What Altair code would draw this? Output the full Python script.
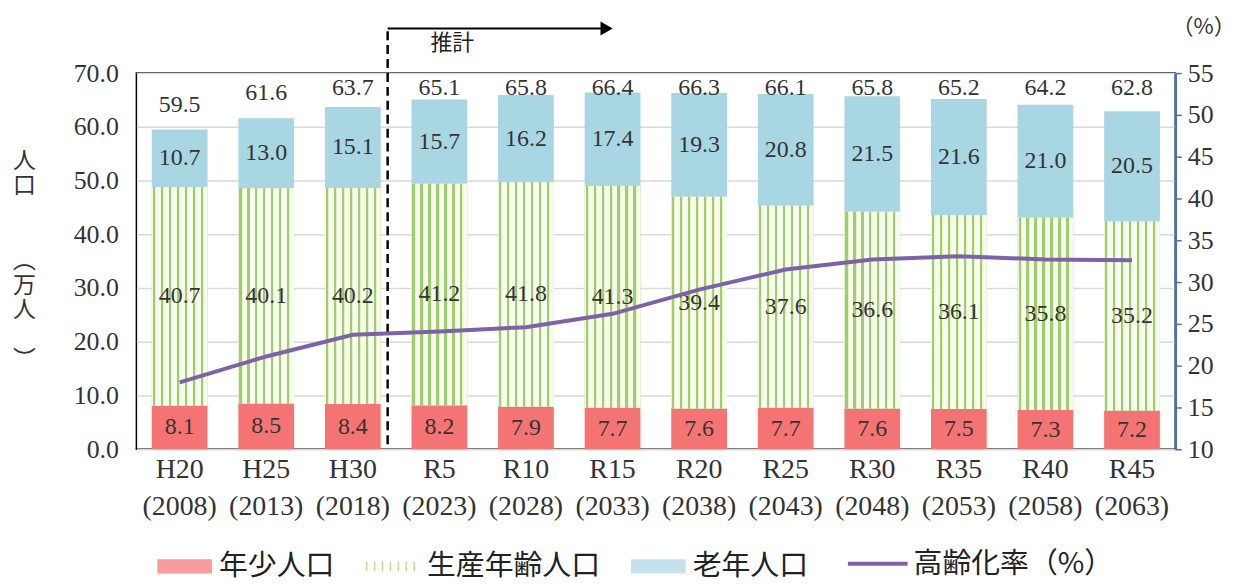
import altair as alt
import pandas as pd

# ---------------- data ----------------
eras = ["H20", "H25", "H30", "R5", "R10", "R15", "R20", "R25", "R30", "R35", "R40", "R45"]
years = ["2008", "2013", "2018", "2023", "2028", "2033", "2038", "2043", "2048", "2053", "2058", "2063"]
young = [8.1, 8.5, 8.4, 8.2, 7.9, 7.7, 7.6, 7.7, 7.6, 7.5, 7.3, 7.2]
working = [40.7, 40.1, 40.2, 41.2, 41.8, 41.3, 39.4, 37.6, 36.6, 36.1, 35.8, 35.2]
elderly = [10.7, 13.0, 15.1, 15.7, 16.2, 17.4, 19.3, 20.8, 21.5, 21.6, 21.0, 20.5]
totals = [59.5, 61.6, 63.7, 65.1, 65.8, 66.4, 66.3, 66.1, 65.8, 65.2, 64.2, 62.8]
aging_rate = [18.0, 21.1, 23.7, 24.1, 24.6, 26.2, 29.1, 31.5, 32.7, 33.1, 32.7, 32.6]

series_names = ["年少人口", "生産年齢人口", "老年人口"]
series_colors = ["#f47474", "#a3d078", "#a9d6e3"]
line_name = "高齢化率（%）"
line_color = "#7d62a8"

cats = [f"{e}|({y})" for e, y in zip(eras, years)]

rows = []
for i, c in enumerate(cats):
    s0 = 0.0
    for name, vals in zip(series_names, [young, working, elderly]):
        v = vals[i]
        rows.append(dict(cat=c, series=name, start=s0, end=s0 + v, mid=s0 + v / 2, value=v))
        s0 += v
seg = pd.DataFrame(rows)

tot = pd.DataFrame({"cat": cats, "total": totals})
tot["label_y"] = [min(t + 4.6, 67.2) for t in totals]

line_df = pd.DataFrame({"cat": cats, "rate": aging_rate, "series": line_name})

ann = pd.DataFrame({
    "start": [cats[3]], "end": [cats[5]],
    "top": [77.8], "bottom": [0.0], "arrow_y": [78.3], "text_y": [75.6], "label": ["推計"],
})

# ---------------- styling helpers ----------------
SERIF = "Liberation Serif"
JP = "Noto Sans CJK JP"
TXT = "#333333"
SP = "\u200b"  # invisible placeholder line

stops = []
n_stripes = 7
for k in range(n_stripes):
    p0 = k / n_stripes
    w = 1 / n_stripes
    seq = [(0.0, "#f4f9e6"), (0.12, "#f4f9e6"), (0.12, "#9fcd70"), (0.40, "#9fcd70"),
           (0.40, "#e8f1c6"), (0.52, "#e8f1c6"), (0.52, "#f8fbef"), (1.0, "#f8fbef")]
    for off, col in seq:
        stops.append({"offset": round(p0 + off * w, 5), "color": col})
stripe_fill = {"gradient": "linear", "x1": 0, "x2": 1, "y1": 0, "y2": 0, "stops": stops}

rect_path = "M-1,-0.26h2v0.52h-2z"
stripe_path = " ".join(
    f"M{-0.98 + k * 0.29:.3f},-0.18h0.06v0.36h-0.06z" for k in range(7)
)

xscale = alt.Scale(domain=cats, paddingInner=0.356, paddingOuter=0.178)
yscale = alt.Scale(domain=[0, 70], nice=False, zero=True)

x_axis = alt.Axis(
    labelExpr="split(datum.label, '|')", labelFont=SERIF, labelFontSize=28,
    labelLineHeight=38, labelColor=TXT, labelPadding=6, ticks=False, domain=False,
    labelAngle=0, title=None,
)


def X(field):
    return alt.X(field, scale=xscale, axis=x_axis, sort=cats)


y_axis = alt.Axis(
    values=[0, 10, 20, 30, 40, 50, 60, 70], format=".1f", grid=True, gridColor="#d9d9d9",
    gridWidth=1.5, domain=False, ticks=False, labelPadding=18, labelFont=SERIF,
    labelFontSize=26, labelColor=TXT,
    title=["人", "口", SP, SP, "︵", "万", "人", SP, "︶"], titleAngle=0, titleX=-113,
    titleY=77, titleAlign="center", titleBaseline="top", titleFont=JP, titleFontSize=23,
    titleFontWeight="normal", titleLineHeight=25, titleColor=TXT,
)


def Y(field):
    return alt.Y(field, scale=yscale, axis=y_axis)


legend_kw = dict(
    orient="none", legendX=21, legendY=468, direction="horizontal", title=None,
    symbolSize=3025, symbolStrokeWidth=0, columnPadding=30,
    labelOffset=7, labelFont=JP, labelFontSize=29, labelColor="#222222", padding=0,
    labelLimit=400,
)
color_scale = alt.Scale(domain=series_names, range=series_colors)
shape_scale = alt.Scale(domain=series_names, range=[rect_path, stripe_path, rect_path])

# ---------------- layers ----------------
bars = alt.Chart(seg).mark_bar().encode(
    x=X("cat:N"), y=Y("start:Q"), y2="end:Q",
    color=alt.Color("series:N", scale=color_scale, legend=alt.Legend(**legend_kw),
                    sort=series_names),
)

legend_pts = alt.Chart(seg).transform_filter("false").mark_point(
    filled=True, strokeWidth=0
).encode(
    x=X("cat:N"), y=Y("mid:Q"),
    color=alt.Color("series:N", scale=color_scale, legend=alt.Legend(**legend_kw),
                    sort=series_names),
    shape=alt.Shape("series:N", scale=shape_scale, legend=alt.Legend(**legend_kw),
                    sort=series_names),
)

stripes = alt.Chart(seg).transform_filter(
    alt.datum.series == "生産年齢人口"
).mark_bar(fill=stripe_fill).encode(
    x=X("cat:N"), y=Y("start:Q"), y2="end:Q",
)

seg_labels = alt.Chart(seg).mark_text(
    font=SERIF, fontSize=24, color=TXT, baseline="middle"
).encode(
    x=X("cat:N"), y=Y("mid:Q"), text=alt.Text("value:Q", format=".1f"),
)

tot_labels = alt.Chart(tot).mark_text(
    font=SERIF, fontSize=24, color=TXT, baseline="middle"
).encode(
    x=X("cat:N"), y=Y("label_y:Q"), text=alt.Text("total:Q", format=".1f"),
)

dash = alt.Chart(ann).mark_rule(
    color="#000000", strokeWidth=2.5, strokeDash=[9, 5], xOffset=-52
).encode(
    x=X("start:N"), y=Y("top:Q"), y2="bottom:Q",
)

arrow = alt.Chart(ann).mark_rule(
    color="#000000", strokeWidth=2, xOffset=-52, x2Offset=-8
).encode(
    x=X("start:N"), x2="end:N", y=Y("arrow_y:Q"),
)

head = alt.Chart(ann).mark_point(
    shape="triangle-right", filled=True, size=200, color="#000000", opacity=1, xOffset=-6
).encode(
    x=X("end:N"), y=Y("arrow_y:Q"),
)

note = alt.Chart(ann).mark_text(
    font=JP, fontSize=22, color="#222222", align="left", baseline="middle", dx=-9
).encode(
    x=X("start:N"), y=Y("text_y:Q"), text="label:N",
)

left = alt.layer(bars, legend_pts, stripes, seg_labels, tot_labels, dash, arrow, head, note)

line = alt.Chart(line_df).mark_line(strokeWidth=4).encode(
    x=X("cat:N"),
    y=alt.Y("rate:Q", scale=alt.Scale(domain=[10, 55], nice=False, zero=False),
            axis=alt.Axis(
                orient="right", values=list(range(10, 60, 5)), grid=False,
                domainColor="#4a72b2", domainWidth=2.5, tickColor="#4a72b2",
                tickSize=6, tickWidth=1.5, labelPadding=6, labelFont=SERIF,
                labelFontSize=26, labelColor=TXT, title="（%）", titleAngle=0,
                titleX=28, titleY=-47, titleAlign="center", titleBaseline="middle",
                titleFont=JP, titleFontSize=22, titleFontWeight="normal", titleColor=TXT,
            )),
    stroke=alt.Stroke("series:N", scale=alt.Scale(domain=[line_name], range=[line_color]),
                      legend=alt.Legend(
                          orient="none", legendX=713, legendY=461, direction="horizontal",
                          title=None, symbolType="stroke", symbolSize=3600,
                          symbolStrokeWidth=4, labelOffset=4, labelFont=JP,
                          labelFontSize=29, labelColor="#222222", padding=0, labelLimit=400,
                      )),
)

chart = alt.layer(left, line).resolve_scale(y="independent").properties(
    width=1044, height=378,
    padding={"left": 129, "top": 64, "right": 62, "bottom": 134},
    autosize=alt.AutoSizeParams(type="none"),
    background="white",
).configure_view(stroke="#000000", strokeWidth=1.5)

chart.save("out.html", embed_options={"renderer": "svg", "actions": False})
